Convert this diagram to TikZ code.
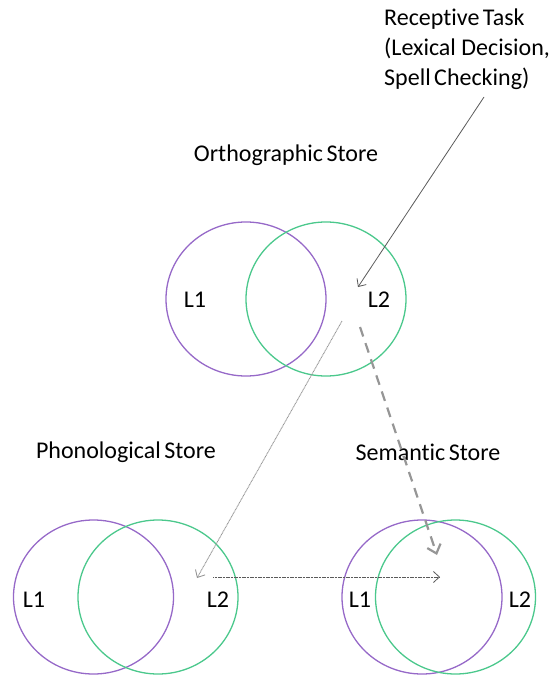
\documentclass[tikz,border=0pt]{standalone}
\usepackage{fontspec}
\setmainfont[Ligatures=NoCommon]{Carlito}
\usetikzlibrary{shapes.geometric,arrows.meta}
\definecolor{lpurple}{RGB}{150,105,200}
\definecolor{lgreen}{RGB}{75,200,140}
\definecolor{arrgray}{RGB}{90,90,90}
\definecolor{lgray}{RGB}{150,150,150}
\begin{document}
\begin{tikzpicture}[x=1pt,y=-1pt,
  circ/.style={ellipse, draw, line width=1.3pt, minimum width=160pt, minimum height=154pt, inner sep=0pt},
  purp/.style={circ, draw=lpurple},
  grn/.style={circ, draw=lgreen},
  lbl/.style={font=\fontsize{24}{30}\selectfont, text=black, inner sep=0pt},
  head/.style={-{Straight Barb[length=6pt,width=11pt]}},
]
\useasboundingbox (0,0) rectangle (554,677);
% orthographic store
\node[purp] (oA) at (246,299) {};
\node[grn]  (oB) at (326,299) {};
\node[lbl] (oL1) at (195,300) {L1};
\node[lbl] (oL2) at (379,300) {L2};
\node[lbl] (oT) at (286,155) {Orthographic\hspace{3.5pt}Store};
% phonological store
\node[purp] (pA) at (93.5,597) {};
\node[grn]  (pB) at (158,597) {};
\node[lbl] (pL1) at (34,600) {L1};
\node[lbl] (pL2) at (218,600) {L2};
\node[lbl] (pT) at (126,452) {Phonological\hspace{3.5pt}Store};
% semantic store
\node[purp] (sA) at (422,597) {};
\node[grn]  (sB) at (455.5,597) {};
\node[lbl] (sL1) at (360,600) {L1};
\node[lbl] (sL2) at (520,600) {L2};
\node[lbl] (sT) at (428,452) {Semantic\hspace{3.5pt}Store};
% receptive task
\node[lbl, anchor=north west, align=left] (rT) at (384,9)
  {Receptive\hspace{3.5pt}Task\\(Lexical Decision,\\Spell\hspace{3.5pt}Checking)};
% connector end points
\coordinate (r1) at (484,97);
\coordinate (r2) at (358,287);
\coordinate (d1) at (342,321);
\coordinate (d2) at (197,578);
\coordinate (k1) at (360,327);
\coordinate (k2) at (437,555);
\coordinate (h1) at (213,577);
\coordinate (h2) at (440,577);
\draw[head, draw=arrgray, line width=0.8pt] (r1) -- (r2);
\draw[head, draw=lgray, line width=0.9pt, dash pattern=on 1pt off 0.6pt] (d1) -- (d2);
\draw[-{Straight Barb[length=8pt,width=14pt]}, draw=lgray, line width=2.2pt, dash pattern=on 10pt off 7pt] (k1) -- (k2);
\draw[head, draw=arrgray, line width=0.8pt, dash pattern=on 1.2pt off 0.4pt] (h1) -- (h2);
\end{tikzpicture}
\end{document}
